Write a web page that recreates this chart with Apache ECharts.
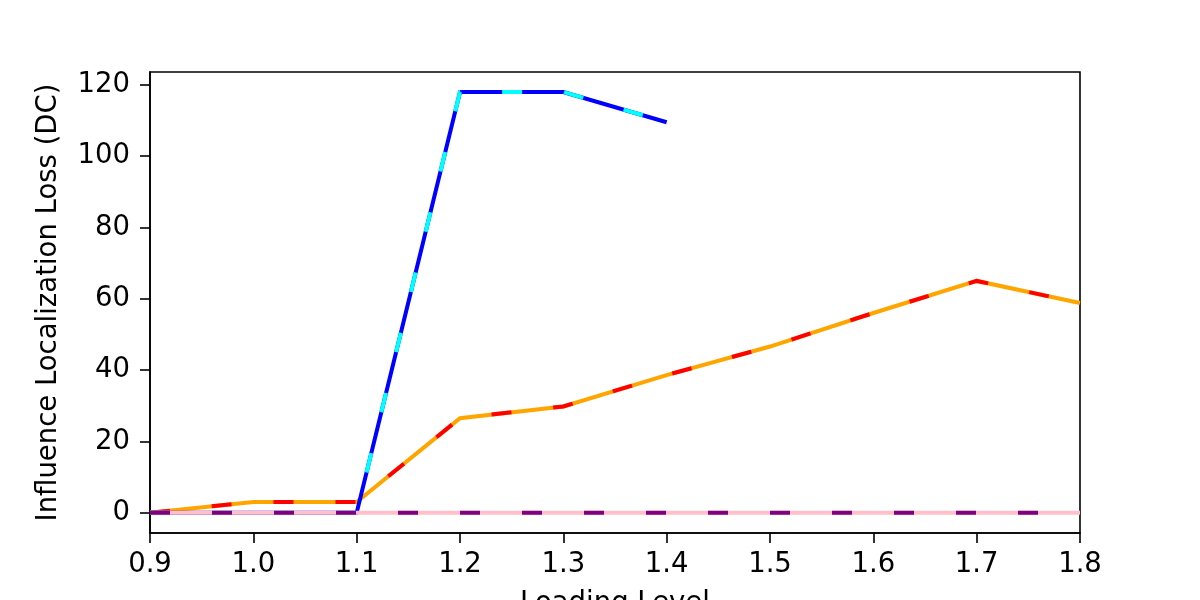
<!DOCTYPE html>
<html>
<head>
<meta charset="utf-8">
<script src="https://cdn.jsdelivr.net/npm/echarts@6/dist/echarts.min.js"></script>
<style>
html,body{margin:0;padding:0;background:#fff;}
#chart{width:1200px;height:600px;}
</style>
</head>
<body>
<div id="chart"></div>
<script>
// ---- data ----
var loadingLevels = [0.9, 1.0, 1.1, 1.2, 1.3, 1.4, 1.5, 1.6, 1.7, 1.8];
var blueLoss   = [0, 0, 0, 118, 118, 109.5, null, null, null, null];
var orangeLoss = [0, 3, 3, 26.5, 29.8, 38.6, 46.6, 56, 65, 58.8];
var pinkLoss   = [0, 0, 0, 0, 0, 0, 0, 0, 0, 0];
var xTicks = [0.9, 1.0, 1.1, 1.2, 1.3, 1.4, 1.5, 1.6, 1.7, 1.8];
var yTicks = [0, 20, 40, 60, 80, 100, 120];

function pairs(ys) {
  var out = [];
  for (var i = 0; i < loadingLevels.length; i++) {
    if (ys[i] !== null && ys[i] !== undefined) out.push([loadingLevels[i], ys[i]]);
  }
  return out;
}

var FONT = 'DejaVu Sans';
var FS = 27.5;
var LW = 4;

function solid(name, ys, color) {
  return {
    name: name, type: 'line', data: pairs(ys), showSymbol: false, symbol: 'none',
    lineStyle: { color: color, width: LW, type: 'solid', cap: 'butt', join: 'miter' },
    silent: true, clip: true
  };
}
function dashed(name, ys, color) {
  return {
    name: name, type: 'line', data: pairs(ys), showSymbol: false, symbol: 'none',
    lineStyle: { color: color, width: LW, type: [20, 42], dashOffset: 0, cap: 'butt', join: 'miter' },
    silent: true, clip: true
  };
}

var chart = echarts.init(document.getElementById('chart'), null, { renderer: 'canvas' });
chart.setOption({
  animation: false,
  backgroundColor: '#ffffff',
  textStyle: { fontFamily: FONT },
  grid: {
    left: 150, right: 120, top: 72, bottom: 67,
    containLabel: false, outerBoundsMode: 'none',
    show: true, borderColor: '#000000', borderWidth: 1.6, backgroundColor: 'transparent'
  },
  xAxis: {
    type: 'value', min: 0.9, max: 1.8,
    name: 'Loading Level', nameLocation: 'middle', nameGap: 57,
    nameTextStyle: { color: '#000', fontSize: FS, fontFamily: FONT },
    axisLine: { show: true, onZero: false, lineStyle: { color: '#000', width: 1.6 } },
    axisTick: { show: true, length: 10, inside: false, customValues: xTicks, lineStyle: { color: '#000', width: 1.6 } },
    axisLabel: { show: true, customValues: xTicks, margin: 18, color: '#000', fontSize: FS, fontFamily: FONT,
      formatter: function (v) { return v.toFixed(1); } },
    splitLine: { show: false }
  },
  yAxis: {
    type: 'value', min: -5.7, max: 123.6,
    name: 'Influence Localization Loss (DC)', nameLocation: 'middle', nameGap: 87,
    nameTextStyle: { color: '#000', fontSize: FS, fontFamily: FONT },
    axisLine: { show: true, onZero: false, lineStyle: { color: '#000', width: 1.6 } },
    axisTick: { show: true, length: 10, inside: false, customValues: yTicks, lineStyle: { color: '#000', width: 1.6 } },
    axisLabel: { show: true, customValues: yTicks, margin: 20, color: '#000', fontSize: FS, fontFamily: FONT },
    splitLine: { show: false }
  },
  series: [
    solid('orange', orangeLoss, '#ffa500'),
    dashed('red', orangeLoss, '#ff0000'),
    solid('blue', blueLoss, '#0000ff'),
    dashed('cyan', blueLoss, '#00ffff'),
    solid('pink', pinkLoss, '#ffc0cb'),
    dashed('purple', pinkLoss, '#800080')
  ]
});
</script>
</body>
</html>
